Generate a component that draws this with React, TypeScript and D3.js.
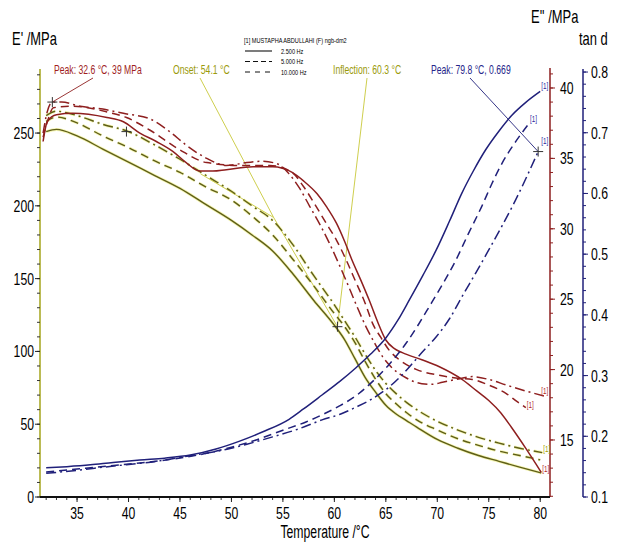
import React from "react";
import * as d3 from "d3";

// Temperature sweep, three frequencies
const FREQS = ["2.500 Hz", "5.000 Hz", "10.000 Hz"];
const TEMP_TICKS = [35, 40, 45, 50, 55, 60, 65, 70, 75, 80];
const STORAGE_TICKS = [0, 50, 100, 150, 200, 250];
const LOSS_TICKS = [15, 20, 25, 30, 35, 40];
const TAN_TICKS = [0.1, 0.2, 0.3, 0.4, 0.5, 0.6, 0.7, 0.8];

type Pt = [number, number];

// Storage modulus E' (MPa)
const storage25: Pt[] = [[32.0,251],[33,252.5],[35,248],[37.5,239],[40,230],[42.5,221],[45,212],[47.5,201],[50,190],[52,180],[54,169],[56,153],[58,135],[60,118],[61,108],[62,95],[63,82],[64,72],[65,63],[66,57],[67,52.5],[68,48],[70,39.5],[72,33.5],[74,28.5],[76,24.5],[78,20.5],[80.1,16.5]];
const storage5: Pt[] = [[32.0,258],[33,261],[35,257],[37.5,248],[40,240],[42.5,231],[45,223],[47.5,213],[50,204],[52,193],[54,180],[56,163],[58,145],[60,126],[61,117],[62,106],[63,93],[64,81],[65,71],[66,64],[67,58],[68,53],[70,46],[72,40],[74,35.5],[76,31.5],[78,28.5],[80,25.5]];
const storage10: Pt[] = [[32.0,262],[33,265],[35,262],[37.5,256],[40,251],[42.5,242],[45,232],[47.5,221],[50,210],[52,200],[54,190],[56,173],[58,152],[60,132],[61,121],[62,110],[63,98],[64,87],[65,78],[66,71],[67,65],[68,60],[70,52],[72,46],[74,41],[76,37],[78,33.5],[80.2,30.5]];

// Loss modulus E'' (MPa)
const loss25: Pt[] = [[31.7,36.2],[32.1,37.6],[33,38.1],[34.6,38.2],[37.9,37.9],[39.5,37.6],[41.1,36.8],[42.7,36.2],[44.3,35.5],[45.6,34.7],[46.9,34.1],[48.2,34.1],[49.5,34.2],[52.1,34.4],[54.0,34.4],[55.9,34.0],[57,33.4],[58.3,32.5],[59.3,31.5],[60.2,30.4],[61,29.1],[61.7,27.8],[62.6,26.3],[63.4,24.9],[64.2,23.4],[65.0,22.1],[65.8,21.5],[66.6,21.2],[68.5,20.7],[70.2,20.2],[72.4,19.3],[73.8,18.5],[75.0,17.8],[76.2,16.9],[77.2,15.9],[78.6,14.4],[80.1,12.7]];
const loss5: Pt[] = [[31.7,36.5],[32.2,37.8],[32.7,38.6],[34.6,38.7],[37.9,38.3],[39.8,37.9],[42.1,37.0],[45,35.6],[47.6,34.7],[50.8,34.5],[53.7,34.5],[55.9,34.0],[57,33.0],[58.3,31.5],[59.2,30.4],[60.2,29.2],[61.2,27.7],[62.1,26.2],[63,24.7],[63.7,23.3],[64.5,22.3],[65.3,21.4],[66.3,20.7],[68,20.0],[70.2,19.6],[71.8,19.4],[73.4,19.3],[75,18.9],[76.7,18.3],[77.8,17.7],[78.6,17.3]];
const loss10: Pt[] = [[31.7,36.8],[32.1,38.3],[32.6,39.0],[33.5,39.0],[35.3,38.7],[37.5,38.5],[39.5,38.2],[42.1,37.8],[44,36.9],[45.5,36.0],[47.6,35.0],[49.5,34.5],[51.5,34.7],[53,34.8],[54.5,34.6],[55.6,33.9],[56.6,32.9],[57.6,31.6],[58.6,30.3],[59.5,29.0],[60.5,27.4],[61.5,25.7],[62.3,24.3],[63.1,23.0],[63.9,21.9],[64.7,20.9],[65.5,20.2],[67.0,19.4],[68.5,19.0],[69.5,18.95],[70.5,19.1],[71.8,19.3],[73.4,19.5],[75,19.3],[76.7,18.9],[78.5,18.5],[80.5,18.1]];

// Loss factor tan d
const tan25: Pt[] = [[32.0,0.148],[34,0.150],[36.3,0.153],[38.5,0.157],[41.1,0.161],[43.5,0.164],[46,0.169],[48.5,0.179],[50.8,0.192],[53,0.207],[55.6,0.228],[57,0.245],[58.8,0.268],[60.5,0.29],[62.1,0.313],[63.5,0.335],[65,0.362],[66.2,0.392],[67.3,0.425],[68.6,0.465],[69.9,0.507],[71.2,0.555],[72.4,0.601],[73.5,0.637],[74.7,0.672],[76,0.703],[77.2,0.728],[78.6,0.75],[80.0,0.768]];
const tan5: Pt[] = [[32.0,0.141],[35,0.146],[38,0.151],[41.1,0.156],[44.5,0.163],[47.6,0.172],[50,0.182],[52.4,0.194],[55,0.21],[57.3,0.224],[59,0.237],[60.5,0.250],[62.2,0.268],[63.7,0.29],[65.3,0.318],[67.0,0.354],[68.2,0.385],[69.2,0.413],[70.5,0.45],[71.8,0.49],[73,0.533],[74.3,0.578],[75.3,0.616],[76.3,0.65],[77.6,0.685],[78.9,0.715]];
const tan10: Pt[] = [[32.0,0.139],[35,0.144],[38,0.150],[42.8,0.159],[46,0.168],[49.1,0.177],[51.5,0.187],[54.0,0.199],[56.5,0.212],[58.8,0.227],[60.5,0.236],[62.1,0.248],[63.7,0.262],[65.3,0.281],[66.8,0.305],[68.5,0.338],[69.9,0.364],[71.2,0.394],[72.4,0.43],[73.7,0.468],[75.0,0.507],[76.3,0.547],[77.6,0.589],[78.7,0.628],[79.8,0.669]];

// Analysis results
const lossPeak: Pt = [32.6, 39];
const onsetT = 54.1;
const onsetE = 192;
const baseTangentStart: Pt = [47.0, 222];
const inflection: Pt = [60.3, 117];
const tanPeak: Pt = [79.8, 0.669];
const storageMark: Pt = [39.8, 251];

const OLIVE = "#5e5e18";
const HALO = "#e8e855";
const RED = "#8e1f1f";
const NAVY = "#20207a";
const FONT = "'Liberation Sans', Arial, sans-serif";

const DASHES = ["", "8,5", "10,4,2,4"];

// Condensed text: horizontally squeezed glyphs
function Txt(props: { x: number; y: number; size: number; sx?: number; anchor?: string; fill?: string; children: React.ReactNode }) {
  const { x, y, size, sx = 0.72, anchor = "start", fill = "#000", children } = props;
  return (
    <text transform={`translate(${x},${y}) scale(${sx},1)`} fontSize={size} textAnchor={anchor} fill={fill}>
      {children}
    </text>
  );
}

export default function App() {
  const W = 622, H = 544;
  const x = d3.scaleLinear().domain([31.4, 80.95]).range([40, 550]);
  const yS = d3.scaleLinear().domain([0, 294]).range([497, 69]);
  const yL = d3.scaleLinear().domain([10.95, 41.42]).range([497, 68]);
  const yT = d3.scaleLinear().domain([0.1, 0.805]).range([497, 69]);

  const mk = (ys: d3.ScaleLinear<number, number>) =>
    d3.line<Pt>().x(d => x(d[0])).y(d => ys(d[1])).curve(d3.curveMonotoneX);

  const lineS = mk(yS), lineL = mk(yL), lineT = mk(yT);
  const storage = [storage25, storage5, storage10];
  const loss = [loss25, loss5, loss10];
  const tan = [tan25, tan5, tan10];

  const cross = (cx: number, cy: number, color: string, key: string) => (
    <g key={key} stroke={color} strokeWidth={1}>
      <line x1={cx - 5} x2={cx + 5} y1={cy} y2={cy} />
      <line x1={cx} x2={cx} y1={cy - 5} y2={cy + 5} />
    </g>
  );

  const endTag = (d: Pt[], ys: d3.ScaleLinear<number, number>, color: string, key: string, dx: number, dy: number) => {
    const p = d[d.length - 1];
    return (
      <Txt key={key} x={x(p[0]) + dx} y={ys(p[1]) + dy} size={9} sx={0.7} fill={color}>[1]</Txt>
    );
  };

  const xMinor = d3.range(32, 81, 1);
  const sMinor = d3.range(0, 291, 10);
  const lMinor = d3.range(11, 41.5, 1);
  const tMinor = d3.range(0.1, 0.801, 0.02);

  return (
    <svg width={W} height={H} style={{ position: "absolute", left: 0, top: 0, background: "#fff" }} fontFamily={FONT}>
      <rect x={0} y={0} width={W} height={H} fill="#fff" />

      {/* axis titles */}
      <Txt x={12} y={45} size={18}>E' /MPa</Txt>
      <Txt x={531} y={23} size={18}>E'' /MPa</Txt>
      <Txt x={579} y={45} size={18}>tan d</Txt>
      <Txt x={325} y={538} size={18} sx={0.68} anchor="middle">Temperature /°C</Txt>

      {/* legend */}
      <g fill="#222">
        <Txt x={244} y={43} size={7} sx={0.8}>[1] MUSTAPHA ABDULLAHI (F) ngb-dm2</Txt>
        {FREQS.map((f, i) => (
          <g key={f}>
            <line x1={245} x2={272} y1={51 + i * 10.5} y2={51 + i * 10.5} stroke="#111" strokeWidth={1.1}
              strokeDasharray={i === 0 ? "" : i === 1 ? "5,3" : "5,5"} />
            <Txt x={281} y={53.5 + i * 10.5} size={7} sx={0.8}>{f}</Txt>
          </g>
        ))}
      </g>

      {/* left axis: E' */}
      <line x1={40} x2={40} y1={69} y2={497} stroke="#a4a41c" strokeWidth={1.5} />
      {sMinor.map(v => (
        <line key={"sm" + v} x1={40} x2={37} y1={yS(v)} y2={yS(v)} stroke="#333" />
      ))}
      {STORAGE_TICKS.map(v => (
        <g key={"s" + v}>
          <line x1={40} x2={35} y1={yS(v)} y2={yS(v)} stroke="#222" />
          <Txt x={34} y={yS(v) + 6} size={17} anchor="end">{v}</Txt>
        </g>
      ))}

      {/* right axis: E'' */}
      <line x1={550} x2={550} y1={68} y2={497} stroke={RED} strokeWidth={1.5} />
      {lMinor.map(v => (
        <line key={"lm" + v} x1={550} x2={553} y1={yL(v)} y2={yL(v)} stroke={RED} />
      ))}
      {LOSS_TICKS.map(v => (
        <g key={"l" + v}>
          <line x1={550} x2={555} y1={yL(v)} y2={yL(v)} stroke={RED} />
          <Txt x={560} y={yL(v) + 6} size={17}>{v}</Txt>
        </g>
      ))}

      {/* outer right axis: tan d */}
      <line x1={583} x2={583} y1={69} y2={497} stroke={NAVY} strokeWidth={1.5} />
      {tMinor.map(v => (
        <line key={"tm" + v} x1={583} x2={586} y1={yT(v)} y2={yT(v)} stroke={NAVY} />
      ))}
      {TAN_TICKS.map(v => (
        <g key={"t" + v}>
          <line x1={583} x2={588} y1={yT(v)} y2={yT(v)} stroke={NAVY} />
          <Txt x={591} y={yT(v) + 6} size={17}>{v.toFixed(1)}</Txt>
        </g>
      ))}

      {/* bottom axis: temperature */}
      {xMinor.map(v => (
        <line key={"xm" + v} x1={x(v)} x2={x(v)} y1={497} y2={500} stroke="#333" />
      ))}
      {TEMP_TICKS.map(v => (
        <g key={"x" + v}>
          <line x1={x(v)} x2={x(v)} y1={497} y2={502} stroke="#222" />
          <Txt x={x(v)} y={519} size={17} anchor="middle">{v}</Txt>
        </g>
      ))}
      <line x1={40} x2={550} y1={497} y2={497} stroke="#111" strokeWidth={2} />

      {/* onset construction and annotation pointers */}
      <g stroke="#c8c83a" strokeWidth={0.9} fill="none">
        <line x1={x(baseTangentStart[0])} y1={yS(baseTangentStart[1])} x2={x(onsetT)} y2={yS(onsetE)} />
        <line x1={x(onsetT)} y1={yS(onsetE)} x2={x(inflection[0])} y2={yS(inflection[1])} />
        <line x1={200} y1={78} x2={x(onsetT)} y2={yS(onsetE)} />
        <line x1={367} y1={78} x2={x(inflection[0])} y2={yS(inflection[1])} />
      </g>
      <line x1={93} y1={78} x2={x(lossPeak[0])} y2={yL(lossPeak[1])} stroke={RED} strokeWidth={0.9} />
      <line x1={470} y1={78} x2={x(tanPeak[0])} y2={yT(tanPeak[1])} stroke={NAVY} strokeWidth={0.9} />

      {/* E' curves with halo */}
      {storage.map((d, i) => (
        <path key={"sh" + i} d={lineS(d) || ""} fill="none" stroke={HALO} strokeOpacity={0.45} strokeWidth={3} strokeDasharray={DASHES[i]} />
      ))}
      {storage.map((d, i) => (
        <path key={"s" + i} d={lineS(d) || ""} fill="none" stroke={OLIVE} strokeWidth={1.4} strokeDasharray={DASHES[i]} />
      ))}

      {/* E'' curves */}
      {loss.map((d, i) => (
        <path key={"l" + i} d={lineL(d) || ""} fill="none" stroke={RED} strokeWidth={1.5} strokeDasharray={DASHES[i]} />
      ))}

      {/* tan d curves */}
      {tan.map((d, i) => (
        <path key={"t" + i} d={lineT(d) || ""} fill="none" stroke={NAVY} strokeWidth={1.5} strokeDasharray={DASHES[i]} />
      ))}

      {/* markers */}
      {cross(x(lossPeak[0]), yL(lossPeak[1]), "#333", "c1")}
      {cross(x(storageMark[0]), yS(storageMark[1]), "#333", "c2")}
      {cross(x(inflection[0]), yS(inflection[1]), "#333", "c3")}
      {cross(x(tanPeak[0]), yT(tanPeak[1]), "#333", "c4")}

      {/* curve end tags */}
      {endTag(storage10, yS, "#a0a000", "es", 1, -1)}
      {endTag(loss25, yL, "#b02a2a", "el0", 1, 0)}
      {endTag(loss5, yL, "#b02a2a", "el1", 1, 0)}
      {endTag(loss10, yL, "#b02a2a", "el2", -4, -2)}
      {endTag(tan25, yT, "#2a2aa0", "et0", 1, -2)}
      {endTag(tan5, yT, "#2a2aa0", "et1", 1, -2)}
      {endTag(tan10, yT, "#2a2aa0", "et2", 3, -8)}

      {/* annotation texts */}
      <Txt x={54} y={74} size={12} sx={0.72} fill="#a01e1e">Peak: 32.6 °C, 39 MPa</Txt>
      <Txt x={173} y={74} size={12} sx={0.72} fill="#9a9a0a">Onset: 54.1 °C</Txt>
      <Txt x={333} y={74} size={12} sx={0.72} fill="#9a9a0a">Inflection: 60.3 °C</Txt>
      <Txt x={431} y={74} size={12} sx={0.72} fill="#26268a">Peak: 79.8 °C, 0.669</Txt>
    </svg>
  );
}
